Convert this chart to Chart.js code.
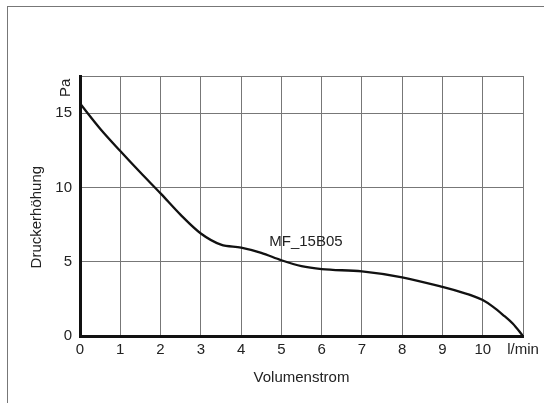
<!DOCTYPE html>
<html>
<head>
<meta charset="utf-8">
<script src="https://cdn.jsdelivr.net/npm/chart.js@4/dist/chart.umd.min.js"></script>
<style>
  html, body { margin: 0; padding: 0; background: #fff; overflow: hidden; }
  #frame { position: absolute; left: 7px; top: 6px; width: 700px; height: 600px; border: 1px solid #777; }
  #chart { position: absolute; left: 0; top: 0; }
</style>
</head>
<body>
<div id="frame"></div>
<canvas id="chart" width="544" height="403"></canvas>
<script>
// Kennlinie MF_15B05: Druckerhöhung über Volumenstrom
const flow = [0, 0.5, 1, 1.5, 2, 2.5, 3, 3.5, 4, 4.5, 5, 5.5, 6, 7, 8, 9, 9.5, 9.75, 10, 10.25, 10.5, 10.75, 11];
const pressure = [15.65, 13.95, 12.45, 11.0, 9.6, 8.15, 6.9, 6.15, 5.95, 5.6, 5.1, 4.7, 4.5, 4.35, 3.95, 3.3, 2.92, 2.7, 2.42, 1.98, 1.43, 0.82, 0];
const yTicks = [0, 5, 10, 15];
const seriesLabel = 'MF_15B05';
const xUnit = 'l/min';
const yUnit = 'Pa';
const yTitle = 'Druckerhöhung';

const fontFamily = '"Liberation Sans", Arial, sans-serif';
const fontSize = 15;

// extra labels: y title, unit on y axis and curve name
const labelPlugin = {
    id: 'labels',
    afterDraw(chart) {
        const ctx = chart.ctx;
        const x = chart.scales.x, y = chart.scales.y;
        ctx.save();
        ctx.fillStyle = '#222';
        ctx.font = fontSize + 'px ' + fontFamily;
        ctx.textAlign = 'left';
        ctx.textBaseline = 'middle';
        ctx.fillText(seriesLabel, x.getPixelForValue(4.7), y.getPixelForValue(6.35));
        ctx.textAlign = 'center';
        ctx.save();
        ctx.translate(x.left - 14, y.getPixelForValue(16.7));
        ctx.rotate(-Math.PI / 2);
        ctx.fillText(yUnit, 0, 0);
        ctx.restore();
        ctx.translate(37, y.getPixelForValue(8.0));
        ctx.rotate(-Math.PI / 2);
        ctx.fillText(yTitle, 0, 0);
        ctx.restore();
    }
};

new Chart(document.getElementById('chart').getContext('2d'), {
    type: 'line',
    data: {
        datasets: [{
            label: seriesLabel,
            data: flow.map((f, i) => ({ x: f, y: pressure[i] })),
            borderColor: '#111',
            borderWidth: 2.3,
            pointRadius: 0,
            cubicInterpolationMode: 'monotone',
            fill: false
        }]
    },
    options: {
        responsive: false,
        animation: false,
        devicePixelRatio: 1,
        layout: { padding: { left: 0, top: 76, right: 21, bottom: 0 } },
        plugins: { legend: { display: false }, tooltip: { enabled: false } },
        scales: {
            x: {
                type: 'linear',
                min: 0,
                max: 11,
                afterFit: s => { s.height = 67; },
                ticks: {
                    stepSize: 1,
                    color: '#222',
                    padding: 5,
                    font: { family: fontFamily, size: fontSize },
                    maxRotation: 0,
                    callback: v => v === 11 ? xUnit : v
                },
                grid: { color: '#777', lineWidth: 1, drawTicks: false },
                border: { display: true, color: '#111', width: 3 },
                title: {
                    display: true,
                    text: 'Volumenstrom',
                    color: '#222',
                    font: { family: fontFamily, size: fontSize },
                    padding: { top: 0, bottom: 16 }
                }
            },
            y: {
                min: 0,
                max: 17.5,
                afterFit: s => { s.width = 80; },
                afterBuildTicks: s => {
                    s.ticks = yTicks.concat([17.5]).map(v => ({ value: v }));
                },
                ticks: {
                    color: '#222',
                    padding: 8,
                    font: { family: fontFamily, size: fontSize },
                    callback: v => yTicks.includes(v) ? v : ''
                },
                grid: { color: '#777', lineWidth: 1, drawTicks: false },
                border: { display: true, color: '#111', width: 3 }
            }
        }
    },
    plugins: [labelPlugin]
});
</script>
</body>
</html>
